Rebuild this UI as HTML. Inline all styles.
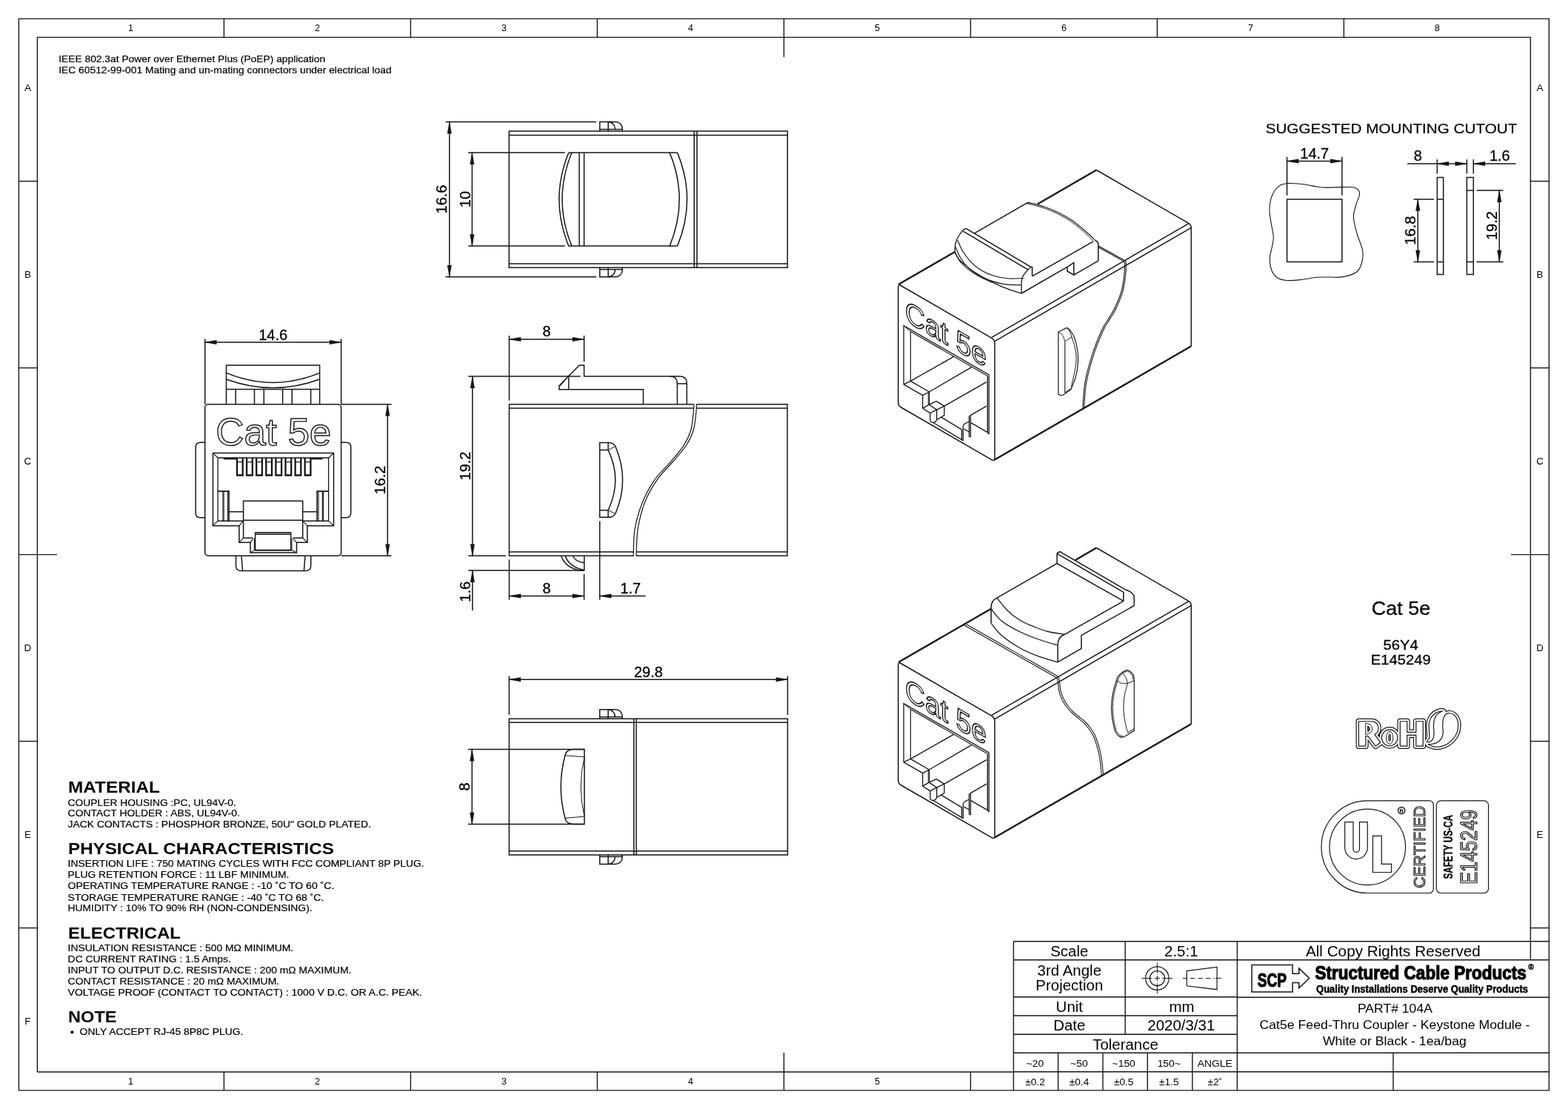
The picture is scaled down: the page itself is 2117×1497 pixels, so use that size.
<!DOCTYPE html>
<html><head><meta charset="utf-8"><title>Cat5e Feed-Thru Coupler Drawing</title>
<style>
html,body{margin:0;padding:0;background:#fff;}
body{width:2117px;height:1497px;overflow:hidden;font-family:"Liberation Sans",sans-serif;}
svg{display:block;will-change:transform;font-family:"Liberation Sans",sans-serif;}
</style></head><body>
<svg width="2117" height="1497" viewBox="0 0 2117 1497" stroke="#161616" fill="none" stroke-linecap="butt" stroke-linejoin="miter">
<path d="M25.4 25.4H2091.4V1471.9H25.4Z" stroke-width="1.4" fill="none"/>
<path d="M2066.4 1295.8V50.4H50.4V1447" stroke-width="1.4" fill="none"/>
<path d="M50.4 1447L1368.4 1447" stroke-width="1.4"/>
<path d="M302.4 25.4L302.4 50.4" stroke-width="1.4"/>
<path d="M554.4 25.4L554.4 50.4" stroke-width="1.4"/>
<path d="M806.4 25.4L806.4 50.4" stroke-width="1.4"/>
<path d="M1058.4 25.4L1058.4 77" stroke-width="1.4"/>
<path d="M1310.4 25.4L1310.4 50.4" stroke-width="1.4"/>
<path d="M1562.4 25.4L1562.4 50.4" stroke-width="1.4"/>
<path d="M1814.4 25.4L1814.4 50.4" stroke-width="1.4"/>
<path d="M302.4 1447L302.4 1471.9" stroke-width="1.4"/>
<path d="M554.4 1447L554.4 1471.9" stroke-width="1.4"/>
<path d="M806.4 1447L806.4 1471.9" stroke-width="1.4"/>
<path d="M1058.4 1421L1058.4 1471.9" stroke-width="1.4"/>
<path d="M1310.4 1447L1310.4 1471.9" stroke-width="1.4"/>
<path d="M25.4 244.6L50.4 244.6" stroke-width="1.4"/>
<path d="M2066.4 244.6L2091.4 244.6" stroke-width="1.4"/>
<path d="M25.4 496.6L50.4 496.6" stroke-width="1.4"/>
<path d="M2066.4 496.6L2091.4 496.6" stroke-width="1.4"/>
<path d="M25.4 748.6L77 748.6" stroke-width="1.4"/>
<path d="M2040 748.6L2091.4 748.6" stroke-width="1.4"/>
<path d="M25.4 1000.6L50.4 1000.6" stroke-width="1.4"/>
<path d="M2066.4 1000.6L2091.4 1000.6" stroke-width="1.4"/>
<path d="M25.4 1252.6L50.4 1252.6" stroke-width="1.4"/>
<path d="M2066.4 1252.6L2091.4 1252.6" stroke-width="1.4"/>
<text x="176.4" y="42" font-size="12.5" text-anchor="middle" fill="#000" stroke="none">1</text>
<text x="176.4" y="1464.3" font-size="12.5" text-anchor="middle" fill="#000" stroke="none">1</text>
<text x="428.4" y="42" font-size="12.5" text-anchor="middle" fill="#000" stroke="none">2</text>
<text x="428.4" y="1464.3" font-size="12.5" text-anchor="middle" fill="#000" stroke="none">2</text>
<text x="680.4" y="42" font-size="12.5" text-anchor="middle" fill="#000" stroke="none">3</text>
<text x="680.4" y="1464.3" font-size="12.5" text-anchor="middle" fill="#000" stroke="none">3</text>
<text x="932.4" y="42" font-size="12.5" text-anchor="middle" fill="#000" stroke="none">4</text>
<text x="932.4" y="1464.3" font-size="12.5" text-anchor="middle" fill="#000" stroke="none">4</text>
<text x="1184.4" y="42" font-size="12.5" text-anchor="middle" fill="#000" stroke="none">5</text>
<text x="1184.4" y="1464.3" font-size="12.5" text-anchor="middle" fill="#000" stroke="none">5</text>
<text x="1436.4" y="42" font-size="12.5" text-anchor="middle" fill="#000" stroke="none">6</text>
<text x="1688.4" y="42" font-size="12.5" text-anchor="middle" fill="#000" stroke="none">7</text>
<text x="1940.4" y="42" font-size="12.5" text-anchor="middle" fill="#000" stroke="none">8</text>
<text x="0" y="0" font-size="12" text-anchor="middle" fill="#000" stroke="none" transform="translate(37.4 123) scale(1.12 1)">A</text>
<text x="0" y="0" font-size="12" text-anchor="middle" fill="#000" stroke="none" transform="translate(2079 123) scale(1.12 1)">A</text>
<text x="0" y="0" font-size="12" text-anchor="middle" fill="#000" stroke="none" transform="translate(37.4 375) scale(1.12 1)">B</text>
<text x="0" y="0" font-size="12" text-anchor="middle" fill="#000" stroke="none" transform="translate(2079 375) scale(1.12 1)">B</text>
<text x="0" y="0" font-size="12" text-anchor="middle" fill="#000" stroke="none" transform="translate(37.4 627) scale(1.12 1)">C</text>
<text x="0" y="0" font-size="12" text-anchor="middle" fill="#000" stroke="none" transform="translate(2079 627) scale(1.12 1)">C</text>
<text x="0" y="0" font-size="12" text-anchor="middle" fill="#000" stroke="none" transform="translate(37.4 879) scale(1.12 1)">D</text>
<text x="0" y="0" font-size="12" text-anchor="middle" fill="#000" stroke="none" transform="translate(2079 879) scale(1.12 1)">D</text>
<text x="0" y="0" font-size="12" text-anchor="middle" fill="#000" stroke="none" transform="translate(37.4 1131) scale(1.12 1)">E</text>
<text x="0" y="0" font-size="12" text-anchor="middle" fill="#000" stroke="none" transform="translate(2079 1131) scale(1.12 1)">E</text>
<text x="0" y="0" font-size="12" text-anchor="middle" fill="#000" stroke="none" transform="translate(37.4 1383) scale(1.12 1)">F</text>
<path d="M1368.4 1270.8L1368.4 1471.9" stroke-width="1.4"/>
<path d="M1368.4 1270.8L2091.4 1270.8" stroke-width="1.4"/>
<path d="M1368.4 1295.8L2091.4 1295.8" stroke-width="1.4"/>
<path d="M1368.4 1345.8L1670.4 1345.8" stroke-width="1.4"/>
<path d="M1670.4 1346.3L2091.4 1346.3" stroke-width="1.4"/>
<path d="M1368.4 1371L1670.4 1371" stroke-width="1.4"/>
<path d="M1368.4 1396.3L1670.4 1396.3" stroke-width="1.4"/>
<path d="M1368.4 1421.3L2091.4 1421.3" stroke-width="1.4"/>
<path d="M1368.4 1446.8L2091.4 1446.8" stroke-width="1.4"/>
<path d="M1519.2 1270.8L1519.2 1396.3" stroke-width="1.4"/>
<path d="M1670.4 1270.8L1670.4 1471.9" stroke-width="1.4"/>
<path d="M1428.6 1421.3L1428.6 1471.9" stroke-width="1.4"/>
<path d="M1489 1421.3L1489 1471.9" stroke-width="1.4"/>
<path d="M1549.3 1421.3L1549.3 1471.9" stroke-width="1.4"/>
<path d="M1609.9 1421.3L1609.9 1471.9" stroke-width="1.4"/>
<path d="M1881 1421.3L1881 1471.9" stroke-width="1.4"/>
<text x="0" y="0" font-size="19.3" text-anchor="middle" fill="#000" stroke="none" transform="translate(1443.8 1291.1) scale(1.06 1)">Scale</text>
<text x="0" y="0" font-size="19.3" text-anchor="middle" fill="#000" stroke="none" transform="translate(1594.8 1291.1) scale(1.06 1)">2.5:1</text>
<text x="0" y="0" font-size="19.3" text-anchor="middle" fill="#000" stroke="none" transform="translate(1443.8 1316.8) scale(1.06 1)">3rd Angle</text>
<text x="0" y="0" font-size="19.3" text-anchor="middle" fill="#000" stroke="none" transform="translate(1443.8 1336.9) scale(1.06 1)">Projection</text>
<text x="0" y="0" font-size="19.3" text-anchor="middle" fill="#000" stroke="none" transform="translate(1443.8 1366.3) scale(1.06 1)">Unit</text>
<text x="0" y="0" font-size="19.3" text-anchor="middle" fill="#000" stroke="none" transform="translate(1595.5 1366.3) scale(1.06 1)">mm</text>
<text x="0" y="0" font-size="19.3" text-anchor="middle" fill="#000" stroke="none" transform="translate(1443.8 1391.4) scale(1.06 1)">Date</text>
<text x="0" y="0" font-size="19.3" text-anchor="middle" fill="#000" stroke="none" transform="translate(1594.8 1391.4) scale(1.06 1)">2020/3/31</text>
<text x="0" y="0" font-size="19.3" text-anchor="middle" fill="#000" stroke="none" transform="translate(1519.5 1417) scale(1.06 1)">Tolerance</text>
<text x="0" y="0" font-size="13" text-anchor="middle" fill="#000" stroke="none" transform="translate(1397.5 1439.7) scale(1.07 1)">~20</text>
<text x="0" y="0" font-size="13" text-anchor="middle" fill="#000" stroke="none" transform="translate(1457 1439.7) scale(1.07 1)">~50</text>
<text x="0" y="0" font-size="13" text-anchor="middle" fill="#000" stroke="none" transform="translate(1517.2 1439.7) scale(1.07 1)">~150</text>
<text x="0" y="0" font-size="13" text-anchor="middle" fill="#000" stroke="none" transform="translate(1578.3 1439.7) scale(1.07 1)">150~</text>
<text x="0" y="0" font-size="13" text-anchor="middle" fill="#000" stroke="none" transform="translate(1640.3 1439.7) scale(1.07 1)">ANGLE</text>
<text x="0" y="0" font-size="13" text-anchor="middle" fill="#000" stroke="none" transform="translate(1397.5 1464.8) scale(1.05 1)">±0.2</text>
<text x="0" y="0" font-size="13" text-anchor="middle" fill="#000" stroke="none" transform="translate(1457 1464.8) scale(1.05 1)">±0.4</text>
<text x="0" y="0" font-size="13" text-anchor="middle" fill="#000" stroke="none" transform="translate(1517.2 1464.8) scale(1.05 1)">±0.5</text>
<text x="0" y="0" font-size="13" text-anchor="middle" fill="#000" stroke="none" transform="translate(1578.3 1464.8) scale(1.05 1)">±1.5</text>
<text x="0" y="0" font-size="13" text-anchor="middle" fill="#000" stroke="none" transform="translate(1640.3 1464.8) scale(1.05 1)">±2˚</text>
<circle cx="1562.4" cy="1320.6" r="15.7" stroke-width="1.2" fill="none"/>
<circle cx="1562.4" cy="1320.6" r="10.1" stroke-width="1.2" fill="none"/>
<path d="M1541.4 1320.6L1555.5 1320.6" stroke-width="1"/>
<path d="M1558.9 1320.6L1565.9 1320.6" stroke-width="1"/>
<path d="M1569.3 1320.6L1583.3 1320.6" stroke-width="1"/>
<path d="M1562.4 1299.8L1562.4 1313.7" stroke-width="1"/>
<path d="M1562.4 1317.1L1562.4 1324.1" stroke-width="1"/>
<path d="M1562.4 1327.5L1562.4 1341.3" stroke-width="1"/>
<path d="M1602.2 1310.7L1643.1 1305.4L1643.1 1335.7L1602.2 1330.8Z" stroke-width="1.2" fill="none"/>
<path d="M1597 1320.6L1603.5 1320.6" stroke-width="1"/>
<path d="M1607 1320.6H1640" stroke-width="1" stroke-dasharray="6.5 4"/>
<path d="M1641.5 1320.6L1649 1320.6" stroke-width="1"/>
<text x="1880.9" y="1290.7" font-size="19.5" text-anchor="middle" fill="#000" stroke="none" textLength="236" lengthAdjust="spacingAndGlyphs">All Copy Rights Reserved</text>
<text x="1883.4" y="1367" font-size="16.5" text-anchor="middle" fill="#000" stroke="none" textLength="101" lengthAdjust="spacingAndGlyphs">PART# 104A</text>
<text x="1882.9" y="1389" font-size="16.5" text-anchor="middle" fill="#000" stroke="none" textLength="365" lengthAdjust="spacingAndGlyphs">Cat5e Feed-Thru Coupler - Keystone Module -</text>
<text x="1882.9" y="1410.5" font-size="16.5" text-anchor="middle" fill="#000" stroke="none" textLength="194" lengthAdjust="spacingAndGlyphs">White or Black - 1ea/bag</text>
<path d="M1745.1 1314.3V1302.6H1690.1V1339H1745.1V1326.6H1753.8V1333.8L1767.7 1320.5L1753.8 1307.1V1314.3Z" stroke-width="1.5" fill="none"/>
<text x="1697.8" y="1331.6" font-size="26.3" font-weight="bold" text-anchor="start" fill="#000" stroke="#000" stroke-width="1.2" stroke-linejoin="round" textLength="39.3" lengthAdjust="spacingAndGlyphs">SCP</text>
<text x="1775.4" y="1322.2" font-size="25" font-weight="bold" text-anchor="start" fill="#000" stroke="#000" stroke-width="1.2" stroke-linejoin="round" textLength="285.5" lengthAdjust="spacingAndGlyphs">Structured Cable Products</text>
<text x="1777" y="1339.8" font-size="14.6" font-weight="bold" text-anchor="start" fill="#000" stroke="#000" stroke-width="0.5" stroke-linejoin="round" textLength="286" lengthAdjust="spacingAndGlyphs">Quality Installations Deserve Quality Products</text>
<text x="2067.2" y="1309.2" font-size="10.5" text-anchor="middle" fill="#000" stroke="none" font-weight="bold" style="stroke:#000;stroke-width:0.4px">®</text>
<text x="79.2" y="83.5" font-size="13" text-anchor="start" fill="#000" stroke="none" textLength="360" lengthAdjust="spacingAndGlyphs" style="stroke:#000;stroke-width:0.2px">IEEE 802.3at Power over Ethernet Plus (PoEP) application</text>
<text x="79.2" y="98.9" font-size="13" text-anchor="start" fill="#000" stroke="none" textLength="449.5" lengthAdjust="spacingAndGlyphs" style="stroke:#000;stroke-width:0.2px">IEC 60512-99-001 Mating and un-mating connectors under electrical load</text>
<text x="92.1" y="1070" font-size="21.8" text-anchor="start" fill="#000" stroke="none" textLength="123.9" lengthAdjust="spacingAndGlyphs" font-weight="bold">MATERIAL</text>
<text x="91.6" y="1087.5" font-size="13" text-anchor="start" fill="#000" stroke="none" textLength="227.2" lengthAdjust="spacingAndGlyphs" style="stroke:#000;stroke-width:0.2px">COUPLER HOUSING :PC, UL94V-0.</text>
<text x="91.6" y="1102.4" font-size="13" text-anchor="start" fill="#000" stroke="none" textLength="232.2" lengthAdjust="spacingAndGlyphs" style="stroke:#000;stroke-width:0.2px">CONTACT HOLDER : ABS, UL94V-0.</text>
<text x="91.6" y="1117.4" font-size="13" text-anchor="start" fill="#000" stroke="none" textLength="409.2" lengthAdjust="spacingAndGlyphs" style="stroke:#000;stroke-width:0.2px">JACK CONTACTS : PHOSPHOR BRONZE, 50U" GOLD PLATED.</text>
<text x="92.1" y="1153" font-size="21.8" text-anchor="start" fill="#000" stroke="none" textLength="358.7" lengthAdjust="spacingAndGlyphs" font-weight="bold">PHYSICAL CHARACTERISTICS</text>
<text x="91.6" y="1170.2" font-size="13" text-anchor="start" fill="#000" stroke="none" textLength="481" lengthAdjust="spacingAndGlyphs" style="stroke:#000;stroke-width:0.2px">INSERTION LIFE : 750 MATING CYCLES WITH FCC COMPLIANT 8P PLUG.</text>
<text x="91.6" y="1185.2" font-size="13" text-anchor="start" fill="#000" stroke="none" textLength="298.7" lengthAdjust="spacingAndGlyphs" style="stroke:#000;stroke-width:0.2px">PLUG RETENTION FORCE : 11 LBF MINIMUM.</text>
<text x="91.6" y="1200.4" font-size="13" text-anchor="start" fill="#000" stroke="none" textLength="359.7" lengthAdjust="spacingAndGlyphs" style="stroke:#000;stroke-width:0.2px">OPERATING TEMPERATURE RANGE : -10 ˚C TO 60 ˚C.</text>
<text x="91.6" y="1215.7" font-size="13" text-anchor="start" fill="#000" stroke="none" textLength="345.7" lengthAdjust="spacingAndGlyphs" style="stroke:#000;stroke-width:0.2px">STORAGE TEMPERATURE RANGE : -40 ˚C TO 68 ˚C.</text>
<text x="91.6" y="1230.4" font-size="13" text-anchor="start" fill="#000" stroke="none" textLength="330" lengthAdjust="spacingAndGlyphs" style="stroke:#000;stroke-width:0.2px">HUMIDITY : 10% TO 90% RH (NON-CONDENSING).</text>
<text x="92.1" y="1266.7" font-size="21.8" text-anchor="start" fill="#000" stroke="none" textLength="151.8" lengthAdjust="spacingAndGlyphs" font-weight="bold">ELECTRICAL</text>
<text x="91.6" y="1283.7" font-size="13" text-anchor="start" fill="#000" stroke="none" textLength="304.6" lengthAdjust="spacingAndGlyphs" style="stroke:#000;stroke-width:0.2px">INSULATION RESISTANCE : 500 MΩ MINIMUM.</text>
<text x="91.6" y="1298.7" font-size="13" text-anchor="start" fill="#000" stroke="none" textLength="220.3" lengthAdjust="spacingAndGlyphs" style="stroke:#000;stroke-width:0.2px">DC CURRENT RATING : 1.5 Amps.</text>
<text x="91.6" y="1313.6" font-size="13" text-anchor="start" fill="#000" stroke="none" textLength="382.8" lengthAdjust="spacingAndGlyphs" style="stroke:#000;stroke-width:0.2px">INPUT TO OUTPUT D.C. RESISTANCE : 200 mΩ MAXIMUM.</text>
<text x="91.6" y="1328.6" font-size="13" text-anchor="start" fill="#000" stroke="none" textLength="285.5" lengthAdjust="spacingAndGlyphs" style="stroke:#000;stroke-width:0.2px">CONTACT RESISTANCE : 20 mΩ MAXIMUM.</text>
<text x="91.6" y="1343.8" font-size="13" text-anchor="start" fill="#000" stroke="none" textLength="478.4" lengthAdjust="spacingAndGlyphs" style="stroke:#000;stroke-width:0.2px">VOLTAGE PROOF (CONTACT TO CONTACT) : 1000 V D.C. OR A.C. PEAK.</text>
<text x="92.1" y="1380.1" font-size="21.8" text-anchor="start" fill="#000" stroke="none" textLength="65.5" lengthAdjust="spacingAndGlyphs" font-weight="bold">NOTE</text>
<circle cx="97.4" cy="1393.3" r="2.1" fill="#000" stroke="none"/>
<text x="107.6" y="1397.4" font-size="13" text-anchor="start" fill="#000" stroke="none" textLength="220.8" lengthAdjust="spacingAndGlyphs" style="stroke:#000;stroke-width:0.2px">ONLY ACCEPT RJ-45 8P8C PLUG.</text>
<text x="1891.4" y="829.6" font-size="26.5" text-anchor="middle" fill="#000" stroke="none" textLength="79.5" lengthAdjust="spacingAndGlyphs" style="stroke:#000;stroke-width:0.3px">Cat 5e</text>
<text x="1891.2" y="877.2" font-size="19.2" text-anchor="middle" fill="#000" stroke="none" textLength="47.4" lengthAdjust="spacingAndGlyphs" style="stroke:#000;stroke-width:0.3px">56Y4</text>
<text x="1891.2" y="896.5" font-size="19.2" text-anchor="middle" fill="#000" stroke="none" textLength="81" lengthAdjust="spacingAndGlyphs" style="stroke:#000;stroke-width:0.3px">E145249</text>
<text x="1878.5" y="180.2" font-size="18.5" text-anchor="middle" fill="#000" stroke="none" textLength="339.7" lengthAdjust="spacingAndGlyphs" style="stroke:#000;stroke-width:0.2px">SUGGESTED MOUNTING CUTOUT</text>
<path d="M687.3 177H1063.2V361.3H687.3Z" stroke-width="1.5" fill="none"/>
<path d="M687.3 182.5L1063.2 182.5" stroke-width="1.5"/>
<path d="M687.3 356L1063.2 356" stroke-width="1.5"/>
<path d="M937.25 177L937.25 361.3" stroke-width="1.5"/>
<path d="M941 177L941 361.3" stroke-width="1.5"/>
<path d="M767.8 206.1L914.6 206.1" stroke-width="1.5"/>
<path d="M767.8 332.1L914.6 332.1" stroke-width="1.5"/>
<path d="M767.8 206.1Q742 269.1 767.8 332.1" stroke-width="1.5" fill="none"/>
<path d="M771.9 206.1Q746.2 269.1 771.9 332.1" stroke-width="1.5" fill="none"/>
<path d="M782.1 206.1L782.1 332.1" stroke-width="1.5"/>
<path d="M788.6 206.1L788.6 332.1" stroke-width="1.5"/>
<path d="M914.6 206.1Q940.6 269.1 914.6 332.1" stroke-width="1.5" fill="none"/>
<path d="M904.2 206.1Q930.2 269.1 904.2 332.1" stroke-width="1.5" fill="none"/>
<path d="M809.8 177V164.6H831.3A9 9 0 0 1 840.3 173.6V177" stroke-width="1.5" fill="none"/>
<path d="M821.2 164.6L821.2 177" stroke-width="1.5"/>
<path d="M821.2 164.6A9.4 10 0 0 1 830.6 174.6" stroke-width="1.5" fill="none"/>
<path d="M809.8 174.6L840.3 174.6" stroke-width="1.5"/>
<path d="M809.8 361.3V373.7H831.3A9 9 0 0 0 840.3 364.7V361.3" stroke-width="1.5" fill="none"/>
<path d="M821.2 373.7L821.2 361.3" stroke-width="1.5"/>
<path d="M821.2 373.7A9.4 10 0 0 0 830.6 363.7" stroke-width="1.5" fill="none"/>
<path d="M809.8 363.7L840.3 363.7" stroke-width="1.5"/>
<path d="M601.6 164.6L805 164.6" stroke-width="1.5"/>
<path d="M601.6 373.7L805 373.7" stroke-width="1.5"/>
<path d="M606.8 164.6L606.8 373.7" stroke-width="1.5"/>
<path d="M606.8 162.9L603.8 180.4L609.8 180.4Z" fill="#161616" stroke="none"/>
<path d="M606.8 375.4L603.8 357.9L609.8 357.9Z" fill="#161616" stroke="none"/>
<text x="603.4" y="269" font-size="20" text-anchor="middle" fill="#000" stroke="none" transform="rotate(-90 603.4 269)" style="stroke:#000;stroke-width:0.3px">16.6</text>
<path d="M632.2 206.1L762.7 206.1" stroke-width="1.5"/>
<path d="M632.2 332.1L762.7 332.1" stroke-width="1.5"/>
<path d="M637.4 206.1L637.4 332.1" stroke-width="1.5"/>
<path d="M637.4 204.4L634.4 221.9L640.4 221.9Z" fill="#161616" stroke="none"/>
<path d="M637.4 333.8L634.4 316.3L640.4 316.3Z" fill="#161616" stroke="none"/>
<text x="634.7" y="269" font-size="20" text-anchor="middle" fill="#000" stroke="none" transform="rotate(-90 634.7 269)" style="stroke:#000;stroke-width:0.3px">10</text>
<path d="M305.5 545.7V493H431.6V545.7" stroke-width="1.5" fill="none"/>
<path d="M305.5 503.4Q368.5 529.4 431.6 503.4" stroke-width="1.5" fill="none"/>
<path d="M305.5 512Q368.5 535 431.6 512" stroke-width="1.5" fill="none"/>
<path d="M305.5 525.4L431.6 525.4" stroke-width="1.5"/>
<path d="M318.2 525.4L318.2 545.7" stroke-width="1.5"/>
<path d="M343.5 525.4L343.5 545.7" stroke-width="1.5"/>
<path d="M356.3 525.4L356.3 545.7" stroke-width="1.5"/>
<path d="M381.6 525.4L381.6 545.7" stroke-width="1.5"/>
<path d="M394.3 525.4L394.3 545.7" stroke-width="1.5"/>
<path d="M419.6 525.4L419.6 545.7" stroke-width="1.5"/>
<path d="M276.7 597.3H270.7Q264.2 597.3 264.2 603.8V692.2Q264.2 698.7 270.7 698.7H276.7" stroke-width="1.5" fill="none"/>
<path d="M460.6 597.3H467.2Q473.7 597.3 473.7 603.8V692.2Q473.7 698.7 467.2 698.7H460.6" stroke-width="1.5" fill="none"/>
<path d="M318.5 750.3V763.5Q318.5 770.6 325.6 770.6H412.6Q419.7 770.6 419.7 763.5V750.3" stroke-width="1.5" fill="none"/>
<path d="M326 750.3L327.5 770.6" stroke-width="1.5"/>
<path d="M412 750.3L410.4 770.6" stroke-width="1.5"/>
<rect x="276.7" y="545.7" width="183.9" height="204.6" rx="4.2" stroke-width="1.5" fill="none"/>
<text x="291.3" y="600.8" font-size="52" text-anchor="start" fill="#fff" stroke="#161616" stroke-width="1.4" textLength="156" lengthAdjust="spacingAndGlyphs">Cat 5e</text>
<path d="M287.5 709.7V611.5H450.5V709.7H414.9V732.3H400.5V746.1H338V732.3H322.9V709.7Z" stroke-width="1.5" fill="none"/>
<path d="M294.1 703.2V618H443.6V703.2" stroke-width="1.3" fill="none"/>
<path d="M287.5 611.5L294.1 618" stroke-width="1.1"/>
<path d="M450.5 611.5L443.6 618" stroke-width="1.1"/>
<path d="M287.5 709.7L294.1 703.2" stroke-width="1.1"/>
<path d="M450.5 709.7L443.6 703.2" stroke-width="1.1"/>
<path d="M294.1 703.2L328.6 703.2" stroke-width="1.5"/>
<path d="M408.7 703.2L443.6 703.2" stroke-width="1.5"/>
<path d="M322.9 709.7L328.6 703.2" stroke-width="1.1"/>
<path d="M414.9 709.7L408.7 703.2" stroke-width="1.1"/>
<path d="M328.6 726.2V676.3H408.7V726.2" stroke-width="1.5" fill="none"/>
<path d="M328.6 702.2L408.7 702.2" stroke-width="1.5"/>
<path d="M328.6 726.2L341.6 726.2" stroke-width="1.5"/>
<path d="M395.7 726.2L408.7 726.2" stroke-width="1.5"/>
<path d="M322.9 732.3L328.6 726.2" stroke-width="1.1"/>
<path d="M414.9 732.3L408.7 726.2" stroke-width="1.1"/>
<path d="M338 732.3L341.6 727.4" stroke-width="1.1"/>
<path d="M400.5 732.3L395.7 727.4" stroke-width="1.1"/>
<path d="M344.6 743.1V719H392.7V743.1Z" stroke-width="1.4" fill="none"/>
<path d="M344.6 719H392.7V721.5H344.6Z" stroke-width="1" fill="#888"/>
<path d="M343.4 726.2L343.4 743.1" stroke-width="1.1"/>
<path d="M393.9 726.2L393.9 743.1" stroke-width="1.1"/>
<path d="M338 746.1L343.4 742.6" stroke-width="1.1"/>
<path d="M400.5 746.1L393.9 742.6" stroke-width="1.1"/>
<path d="M343.4 742.4L393.9 742.4" stroke-width="1.1"/>
<path d="M294.1 663.1H309.1V703.2" stroke-width="1.6" fill="none"/>
<path d="M300.9 663.1L300.9 703.2" stroke-width="1.1"/>
<path d="M302.1 663.1L302.1 703.2" stroke-width="1.1"/>
<path d="M307.4 663.1L307.4 703.2" stroke-width="1.1"/>
<path d="M443.6 663.1H428.1V703.2" stroke-width="1.6" fill="none"/>
<path d="M436.5 663.1L436.5 703.2" stroke-width="1.1"/>
<path d="M435.3 663.1L435.3 703.2" stroke-width="1.1"/>
<path d="M430 663.1L430 703.2" stroke-width="1.1"/>
<path d="M309.1 690.8L328.6 690.8" stroke-width="1.5"/>
<path d="M408.7 690.8L428.1 690.8" stroke-width="1.5"/>
<path d="M301.9 619.2L320 619.2" stroke-width="2.2"/>
<path d="M418.4 619.2L435.4 619.2" stroke-width="2.2"/>
<path d="M320 618.3V641.5H327.7V618.3" stroke-width="2.3" fill="none"/>
<path d="M320 623.6L327.7 623.6" stroke-width="1.2"/>
<path d="M333.1 618.3V641.5H340.8V618.3" stroke-width="2.3" fill="none"/>
<path d="M333.1 623.6L340.8 623.6" stroke-width="1.2"/>
<path d="M346.2 618.3V641.5H353.9V618.3" stroke-width="2.3" fill="none"/>
<path d="M346.2 623.6L353.9 623.6" stroke-width="1.2"/>
<path d="M359.3 618.3V641.5H367V618.3" stroke-width="2.3" fill="none"/>
<path d="M359.3 623.6L367 623.6" stroke-width="1.2"/>
<path d="M372.4 618.3V641.5H380.1V618.3" stroke-width="2.3" fill="none"/>
<path d="M372.4 623.6L380.1 623.6" stroke-width="1.2"/>
<path d="M385.5 618.3V641.5H393.2V618.3" stroke-width="2.3" fill="none"/>
<path d="M385.5 623.6L393.2 623.6" stroke-width="1.2"/>
<path d="M398.6 618.3V641.5H406.3V618.3" stroke-width="2.3" fill="none"/>
<path d="M398.6 623.6L406.3 623.6" stroke-width="1.2"/>
<path d="M411.7 618.3V641.5H419.4V618.3" stroke-width="2.3" fill="none"/>
<path d="M411.7 623.6L419.4 623.6" stroke-width="1.2"/>
<path d="M276.7 457.5L276.7 545.7" stroke-width="1.5"/>
<path d="M460.6 457.5L460.6 545.7" stroke-width="1.5"/>
<path d="M276.7 462.1L460.6 462.1" stroke-width="1.5"/>
<path d="M275 462.1L292.5 459.1L292.5 465.1Z" fill="#161616" stroke="none"/>
<path d="M462.3 462.1L444.8 459.1L444.8 465.1Z" fill="#161616" stroke="none"/>
<text x="368.65" y="458.5" font-size="20" text-anchor="middle" fill="#000" stroke="none" style="stroke:#000;stroke-width:0.3px">14.6</text>
<path d="M460.6 545.7L528.5 545.7" stroke-width="1.5"/>
<path d="M460.6 750.3L528.5 750.3" stroke-width="1.5"/>
<path d="M523.3 545.7L523.3 750.3" stroke-width="1.5"/>
<path d="M523.3 544L520.3 561.5L526.3 561.5Z" fill="#161616" stroke="none"/>
<path d="M523.3 752L520.3 734.5L526.3 734.5Z" fill="#161616" stroke="none"/>
<text x="520" y="648" font-size="20" text-anchor="middle" fill="#000" stroke="none" transform="rotate(-90 520 648)" style="stroke:#000;stroke-width:0.3px">16.2</text>
<path d="M936.8 545.7H687.5V750.2H855.5" stroke-width="1.5" fill="none"/>
<path d="M940.4 545.7H1063V750.2H858.9" stroke-width="1.5" fill="none"/>
<path d="M687.5 551L936.5 551" stroke-width="1.5"/>
<path d="M940.6 551L1063 551" stroke-width="1.5"/>
<path d="M687.5 744.9L855.4 744.9" stroke-width="1.5"/>
<path d="M859.2 744.9L1063 744.9" stroke-width="1.5"/>
<path d="M940.4 545.7C940.37 546.92 940.87 547.28 940.2 553C939.53 558.72 938.67 572 936.4 580C934.13 588 931.28 593.75 926.6 601C921.92 608.25 914.85 615.78 908.3 623.5C901.75 631.22 893.6 638.18 887.3 647.3C881 656.42 874.83 667.2 870.5 678.2C866.17 689.2 863.18 702.2 861.3 713.3C859.42 724.4 859.6 738.65 859.2 744.8C858.8 750.95 858.95 749.3 858.9 750.2" stroke-width="1.2" fill="none"/>
<path d="M936.8 545.7C936.77 546.92 937.25 547.28 936.6 553C935.95 558.72 935.27 571.77 932.9 580C930.53 588.23 927.2 594.92 922.4 602.4C917.6 609.88 910.65 617.18 904.1 624.9C897.55 632.62 889.4 639.35 883.1 648.7C876.8 658.05 870.63 670 866.3 681C861.97 692 858.93 704.07 857.1 714.7C855.27 725.33 855.6 738.88 855.3 744.8C855 750.72 855.3 749.3 855.3 750.2" stroke-width="1.2" fill="none"/>
<path d="M868.5 545.7V525.8H754.9V520.7L782.2 492.9H788.6V508.1H917.6Q927.3 508.1 927.3 517.7V545.7" stroke-width="1.5" fill="none"/>
<path d="M904.6 508.1Q914.4 508.1 914.4 517.7V545.7" stroke-width="1.5" fill="none"/>
<path d="M914.4 517.9L927.3 517.9" stroke-width="1.5"/>
<path d="M767.8 508.8L767.8 525.8" stroke-width="1.5"/>
<path d="M768.6 506.2L756.2 521.4" stroke-width="1"/>
<path d="M809.7 597.5H822.8Q829 598 831.5 604Q849.7 648 831.5 692Q829 697.8 822.8 698.3H809.7Z" stroke-width="1.5" fill="none"/>
<path d="M809.7 607.4H821.1Q840.5 648 821.1 688.7H809.7" stroke-width="1.5" fill="none"/>
<path d="M821.1 597.5L821.1 607.4" stroke-width="1.5"/>
<path d="M821.1 688.7L821.1 698.3" stroke-width="1.5"/>
<path d="M821.1 607.4L830.2 602.8" stroke-width="1"/>
<path d="M821.1 688.7L830.2 693.2" stroke-width="1"/>
<path d="M788.8 750.2V770.1H782.5" stroke-width="1.5" fill="none"/>
<path d="M757.5 750.2Q763 766 782.5 770" stroke-width="1.5" fill="none"/>
<path d="M763.1 750.2Q768 765 788.3 769.6" stroke-width="1.5" fill="none"/>
<path d="M773.4 750.2Q777 758.5 788.8 759.8" stroke-width="1.5" fill="none"/>
<path d="M687.5 453.1L687.5 540.6" stroke-width="1.5"/>
<path d="M788.6 453.1L788.6 488.4" stroke-width="1.5"/>
<path d="M687.5 457.9L788.6 457.9" stroke-width="1.5"/>
<path d="M685.8 457.9L703.3 454.9L703.3 460.9Z" fill="#161616" stroke="none"/>
<path d="M790.3 457.9L772.8 454.9L772.8 460.9Z" fill="#161616" stroke="none"/>
<text x="738.05" y="454" font-size="20" text-anchor="middle" fill="#000" stroke="none" style="stroke:#000;stroke-width:0.3px">8</text>
<path d="M632.3 508.1L783.6 508.1" stroke-width="1.5"/>
<path d="M632.3 750.2L682.8 750.2" stroke-width="1.5"/>
<path d="M637.9 508.1L637.9 750.2" stroke-width="1.5"/>
<path d="M637.9 506.4L634.9 523.9L640.9 523.9Z" fill="#161616" stroke="none"/>
<path d="M637.9 751.9L634.9 734.4L640.9 734.4Z" fill="#161616" stroke="none"/>
<text x="634.8" y="629" font-size="20" text-anchor="middle" fill="#000" stroke="none" transform="rotate(-90 634.8 629)" style="stroke:#000;stroke-width:0.3px">19.2</text>
<path d="M632.3 770.1L788.8 770.1" stroke-width="1.5"/>
<path d="M637.9 770.1L637.9 824" stroke-width="1.5"/>
<path d="M637.9 768.4L634.9 785.9L640.9 785.9Z" fill="#161616" stroke="none"/>
<text x="634.8" y="798.8" font-size="20" text-anchor="middle" fill="#000" stroke="none" transform="rotate(-90 634.8 798.8)" style="stroke:#000;stroke-width:0.3px">1.6</text>
<path d="M687.5 755.3L687.5 809.5" stroke-width="1.5"/>
<path d="M788.6 774.9L788.6 809.5" stroke-width="1.5"/>
<path d="M687.5 804.4L788.6 804.4" stroke-width="1.5"/>
<path d="M685.8 804.4L703.3 801.4L703.3 807.4Z" fill="#161616" stroke="none"/>
<path d="M790.3 804.4L772.8 801.4L772.8 807.4Z" fill="#161616" stroke="none"/>
<text x="738.05" y="800.6" font-size="20" text-anchor="middle" fill="#000" stroke="none" style="stroke:#000;stroke-width:0.3px">8</text>
<path d="M809.7 703.4L809.7 809.5" stroke-width="1.5"/>
<path d="M809.7 804.4L871.6 804.4" stroke-width="1.5"/>
<path d="M808 804.4L825.5 801.4L825.5 807.4Z" fill="#161616" stroke="none"/>
<text x="851.3" y="800.6" font-size="20" text-anchor="middle" fill="#000" stroke="none" style="stroke:#000;stroke-width:0.3px">1.7</text>
<path d="M687.4 970.2H1063.4V1154H687.4Z" stroke-width="1.5" fill="none"/>
<path d="M687.4 975.3L1063.4 975.3" stroke-width="1.5"/>
<path d="M687.4 1148.8L1063.4 1148.8" stroke-width="1.5"/>
<path d="M855.8 970.2L855.8 1154" stroke-width="1.5"/>
<path d="M859.1 970.2L859.1 1154" stroke-width="1.5"/>
<path d="M809.7 970.2V957.8H831.2A9 9 0 0 1 840.2 966.8V970.2" stroke-width="1.5" fill="none"/>
<path d="M821.1 957.8L821.1 970.2" stroke-width="1.5"/>
<path d="M821.1 957.8A9.4 10 0 0 1 830.5 967.8" stroke-width="1.5" fill="none"/>
<path d="M809.7 967.8L840.2 967.8" stroke-width="1.5"/>
<path d="M809.7 1154V1166.4H831.2A9 9 0 0 0 840.2 1157.4V1154" stroke-width="1.5" fill="none"/>
<path d="M821.1 1166.4L821.1 1154" stroke-width="1.5"/>
<path d="M821.1 1166.4A9.4 10 0 0 0 830.5 1156.4" stroke-width="1.5" fill="none"/>
<path d="M809.7 1156.4L840.2 1156.4" stroke-width="1.5"/>
<path d="M789 1011.6H774.8Q764.5 1011.6 763 1019.5Q751.5 1062.1 763 1104.7Q764.5 1112.6 774.8 1112.6H789Z" stroke-width="1.5" fill="none"/>
<path d="M763 1019.8L789 1021.7" stroke-width="1"/>
<path d="M763 1104.4L789 1102.1" stroke-width="1"/>
<path d="M789 1021.7Q779.5 1062 789 1102.1" stroke-width="1" fill="none"/>
<path d="M687.4 912.6L687.4 965" stroke-width="1.5"/>
<path d="M1063.4 912.6L1063.4 965" stroke-width="1.5"/>
<path d="M687.4 917.3L1063.4 917.3" stroke-width="1.5"/>
<path d="M685.7 917.3L703.2 914.3L703.2 920.3Z" fill="#161616" stroke="none"/>
<path d="M1065.1 917.3L1047.6 914.3L1047.6 920.3Z" fill="#161616" stroke="none"/>
<text x="875.4" y="914" font-size="20" text-anchor="middle" fill="#000" stroke="none" style="stroke:#000;stroke-width:0.3px">29.8</text>
<path d="M631.9 1011.6L789 1011.6" stroke-width="1.5"/>
<path d="M631.9 1112.6L789 1112.6" stroke-width="1.5"/>
<path d="M637.3 1011.6L637.3 1112.6" stroke-width="1.5"/>
<path d="M637.3 1009.9L634.3 1027.4L640.3 1027.4Z" fill="#161616" stroke="none"/>
<path d="M637.3 1114.3L634.3 1096.8L640.3 1096.8Z" fill="#161616" stroke="none"/>
<text x="633.8" y="1062" font-size="20" text-anchor="middle" fill="#000" stroke="none" transform="rotate(-90 633.8 1062)" style="stroke:#000;stroke-width:0.3px">8</text>
<path d="M1737.6 269H1811.9V353.5H1737.6Z" stroke-width="1.5" fill="none"/>
<path d="M1738.6 247.3C1742.17 247.55 1752.13 247.85 1760 248.8C1767.87 249.75 1777.13 252.37 1785.8 253C1794.47 253.63 1804.75 252.53 1812 252.6C1819.25 252.67 1825.37 252 1829.3 253.4C1833.23 254.8 1835.32 257.23 1835.6 261C1835.88 264.77 1832.37 270.67 1831 276C1829.63 281.33 1827.23 286.5 1827.4 293C1827.57 299.5 1829.95 307.43 1832 315C1834.05 322.57 1838.62 331.73 1839.7 338.4C1840.78 345.07 1839.92 350.15 1838.5 355C1837.08 359.85 1835.57 364.35 1831.2 367.5C1826.83 370.65 1818.33 372.82 1812.3 373.9C1806.27 374.98 1800.67 373.93 1795 374C1789.33 374.07 1784.8 373.7 1778.3 374.3C1771.8 374.9 1762.93 376.9 1756 377.6C1749.07 378.3 1742.03 379.02 1736.7 378.5C1731.37 377.98 1727.37 376.92 1724 374.5C1720.63 372.08 1718.1 368.45 1716.5 364C1714.9 359.55 1714.23 352.97 1714.4 347.8C1714.57 342.63 1716.68 337.72 1717.5 333C1718.32 328.28 1719.55 325 1719.3 319.5C1719.05 314 1716.88 305.98 1716 300C1715.12 294.02 1714 288.93 1714 283.6C1714 278.27 1714.73 272.52 1716 268C1717.27 263.48 1719.43 259.53 1721.6 256.5C1723.77 253.47 1726.17 251.33 1729 249.8C1731.83 248.27 1737 247.72 1738.6 247.3" stroke-width="1.1" fill="none"/>
<path d="M1737.6 211.8L1737.6 263.8" stroke-width="1.5"/>
<path d="M1811.9 211.8L1811.9 263.8" stroke-width="1.5"/>
<path d="M1737.6 217.5L1811.9 217.5" stroke-width="1.5"/>
<path d="M1735.9 217.5L1753.4 214.5L1753.4 220.5Z" fill="#161616" stroke="none"/>
<path d="M1813.6 217.5L1796.1 214.5L1796.1 220.5Z" fill="#161616" stroke="none"/>
<text x="1774.75" y="214.2" font-size="20" text-anchor="middle" fill="#000" stroke="none" style="stroke:#000;stroke-width:0.3px">14.7</text>
<path d="M1940.4 239.6H1948.7V370.5H1940.4Z" stroke-width="1.5" fill="none"/>
<path d="M1940.4 269L1948.7 269" stroke-width="1.5"/>
<path d="M1940.4 353.5L1948.7 353.5" stroke-width="1.5"/>
<path d="M1980.4 239.6H1989.3V370.5H1980.4Z" stroke-width="1.5" fill="none"/>
<path d="M1980.4 257.1L1989.3 257.1" stroke-width="1.5"/>
<path d="M1980.4 353.5L1989.3 353.5" stroke-width="1.5"/>
<path d="M1900.1 220.9L1980.4 220.9" stroke-width="1.5"/>
<path d="M1940.4 215.2L1940.4 234.5" stroke-width="1.5"/>
<path d="M1980.4 215.2L1980.4 234.5" stroke-width="1.5"/>
<path d="M1989.3 215.2L1989.3 234.5" stroke-width="1.5"/>
<path d="M1938.7 220.9L1956.2 217.9L1956.2 223.9Z" fill="#161616" stroke="none"/>
<path d="M1982.1 220.9L1964.6 217.9L1964.6 223.9Z" fill="#161616" stroke="none"/>
<path d="M1987.6 220.9L2005.1 217.9L2005.1 223.9Z" fill="#161616" stroke="none"/>
<path d="M1989.3 220.9L2046.6 220.9" stroke-width="1.5"/>
<text x="1914.3" y="216.6" font-size="20" text-anchor="middle" fill="#000" stroke="none" style="stroke:#000;stroke-width:0.3px">8</text>
<text x="2024.8" y="216.6" font-size="20" text-anchor="middle" fill="#000" stroke="none" style="stroke:#000;stroke-width:0.3px">1.6</text>
<path d="M1908.6 269L1936 269" stroke-width="1.5"/>
<path d="M1908.6 353.5L1936 353.5" stroke-width="1.5"/>
<path d="M1914.3 269L1914.3 353.5" stroke-width="1.5"/>
<path d="M1914.3 267.3L1911.3 284.8L1917.3 284.8Z" fill="#161616" stroke="none"/>
<path d="M1914.3 355.2L1911.3 337.7L1917.3 337.7Z" fill="#161616" stroke="none"/>
<text x="1910.8" y="311.2" font-size="20" text-anchor="middle" fill="#000" stroke="none" transform="rotate(-90 1910.8 311.2)" style="stroke:#000;stroke-width:0.3px">16.8</text>
<path d="M1993.7 257.1L2029.6 257.1" stroke-width="1.5"/>
<path d="M1993.7 353.5L2029.6 353.5" stroke-width="1.5"/>
<path d="M2024.3 257.1L2024.3 353.5" stroke-width="1.5"/>
<path d="M2024.3 255.4L2021.3 272.9L2027.3 272.9Z" fill="#161616" stroke="none"/>
<path d="M2024.3 355.2L2021.3 337.7L2027.3 337.7Z" fill="#161616" stroke="none"/>
<text x="2020.8" y="304.6" font-size="20" text-anchor="middle" fill="#000" stroke="none" transform="rotate(-90 2020.8 304.6)" style="stroke:#000;stroke-width:0.3px">19.2</text>
<path d="M1212.7 388.5Q1212.7 383.6 1215.3 385L1338.6 456.1Q1343 458.6 1343 463.5V617.5Q1343 623 1339.3 620.9L1216.7 550Q1212.7 547.6 1212.7 543.5Z" stroke-width="1.5" fill="none"/>
<path d="M1339 455.3L1605 301.7" stroke-width="1.5"/>
<path d="M1343 460.6L1608.3 307.4" stroke-width="1.5"/>
<path d="M1480.3 229.5L1604.4 301.2Q1608.3 303.4 1608.3 307.6V467.3" stroke-width="1.5" fill="none"/>
<path d="M1343 620.6L1608.3 467.3" stroke-width="2.3"/>
<path d="M1213.3 383.7L1289.2 339.88" stroke-width="2.3"/>
<path d="M1400.8 275.45L1480.3 229.55" stroke-width="2.3"/>
<path d="M1220.1 518.9V439.6L1335.2 505.9V586.1" stroke-width="1.3" fill="none"/>
<path d="M1229.4 514.4V447.5L1333.3 507.4" stroke-width="1.2" fill="none"/>
<path d="M1333.3 507.4L1333.3 583.6" stroke-width="1.35"/>
<path d="M1220.1 439.6L1229.4 447.5" stroke-width="1"/>
<path d="M1220.1 518.9L1245.7 533.6" stroke-width="1.3"/>
<path d="M1220.1 518.9L1229.4 514.4" stroke-width="1.35"/>
<path d="M1229.4 514.4L1254.6 529" stroke-width="1.35"/>
<path d="M1245.7 533.6L1254.6 529" stroke-width="1.35"/>
<path d="M1229.4 514.4L1287.6 481.4" stroke-width="1.35"/>
<path d="M1254.6 529L1311.7 495.6" stroke-width="1.35"/>
<path d="M1245.7 533.6L1245.7 551.2" stroke-width="1.3"/>
<path d="M1254.6 529L1254.6 546.2" stroke-width="1.35"/>
<path d="M1253.2 530L1253.2 546.8" stroke-width="0.9"/>
<path d="M1245.7 551.2L1255.8 557.6" stroke-width="1.3"/>
<path d="M1245.7 551.2L1254.6 546.2" stroke-width="1.35"/>
<path d="M1254.6 546.2L1264.1 541.7" stroke-width="1.35"/>
<path d="M1264.1 541.7L1274.9 548.1" stroke-width="1.35"/>
<path d="M1274.9 548.1L1264.7 553.1" stroke-width="1.35"/>
<path d="M1264.7 553.1L1255.8 557.6" stroke-width="1.35"/>
<path d="M1254.6 546.2L1264.7 553.1" stroke-width="1.35"/>
<path d="M1274.9 548.1L1274.9 560.7" stroke-width="1.35"/>
<path d="M1274.9 560.7L1264.7 566.5" stroke-width="1.35"/>
<path d="M1264.7 553.1L1264.7 566.5" stroke-width="1.35"/>
<path d="M1255.8 557.6V567Q1256.2 570.6 1260 570.4Q1263.5 570 1264.7 566.5" stroke-width="1.3" fill="none"/>
<path d="M1274.9 548.1L1332 515.7" stroke-width="1.35"/>
<path d="M1259.7 570.3L1299 593.9" stroke-width="1.3"/>
<path d="M1271.1 563.4L1298.4 579.8" stroke-width="1.35"/>
<path d="M1298.4 579.8L1298.4 593.5" stroke-width="1.35"/>
<path d="M1300.3 575.3L1300.3 595" stroke-width="1.35"/>
<path d="M1299 593.9L1300.3 595" stroke-width="1.35"/>
<path d="M1300.3 575.3Q1300.6 573.2 1302 572.4L1308.5 569" stroke-width="1.2" fill="none"/>
<path d="M1301.5 579.2L1308.5 583" stroke-width="1.35"/>
<path d="M1308.5 561.4L1308.5 589.3" stroke-width="1.35"/>
<path d="M1310.4 561.4L1310.4 589.9" stroke-width="1.35"/>
<path d="M1308.5 589.3L1310.4 589.9" stroke-width="1.35"/>
<path d="M1309.1 561.4L1332 548.1" stroke-width="1.35"/>
<path d="M1310.4 570.3L1333.3 583.6" stroke-width="1.35"/>
<path d="M1333.3 583.6L1335.2 586.1" stroke-width="1.35"/>
<text x="0" y="0" transform="matrix(0.866 0.5 0 1 1222 433)" font-size="41" text-anchor="start" fill="#fff" stroke="#161616" stroke-width="1.5" textLength="127" lengthAdjust="spacingAndGlyphs">Cat 5e</text>
<path d="M1482.8 331.8C1485.67 333.38 1494.38 338.2 1500 341.3C1505.62 344.4 1513.23 348.52 1516.5 350.4C1519.77 352.28 1518.95 351.5 1519.6 352.6C1520.25 353.7 1520.43 353.48 1520.4 357C1520.37 360.52 1520.25 367.3 1519.4 373.7C1518.55 380.1 1517.55 387.98 1515.3 395.4C1513.05 402.82 1508.73 412.28 1505.9 418.2C1503.07 424.12 1501.05 426.23 1498.3 430.9C1495.55 435.57 1492.97 438.37 1489.4 446.2C1485.83 454.03 1480.67 466.27 1476.9 477.9C1473.13 489.53 1469.02 503.9 1466.8 516C1464.58 528.1 1464.13 544.75 1463.6 550.5" stroke-width="1.1" fill="none"/>
<path d="M1482.8 333.6C1485.67 335.18 1494.63 340.12 1500 343.1C1505.37 346.08 1512.03 349.72 1515 351.5C1517.97 353.28 1517.2 352.82 1517.8 353.8C1518.4 354.78 1518.63 354.08 1518.6 357.4C1518.57 360.72 1518.45 367.43 1517.6 373.7C1516.75 379.97 1515.75 387.68 1513.5 395C1511.25 402.32 1506.93 411.73 1504.1 417.6C1501.27 423.47 1499.25 425.55 1496.5 430.2C1493.75 434.85 1491.17 437.65 1487.6 445.5C1484.03 453.35 1478.87 465.62 1475.1 477.3C1471.33 488.98 1467.22 503.23 1465 515.6C1462.78 527.97 1462.33 545.52 1461.8 551.5" stroke-width="1.1" fill="none"/>
<path d="M1304.2 308.4C1303.57 308.75 1301.93 308.98 1300.4 310.5C1298.87 312.02 1296.48 315.22 1295 317.5C1293.52 319.78 1292.42 321.8 1291.5 324.2C1290.58 326.6 1289.87 329.15 1289.5 331.9C1289.13 334.65 1289.33 339.23 1289.3 340.7" stroke-width="1.3" fill="none"/>
<path d="M1289.3 340.7C1290.25 342.33 1292.52 347.45 1295 350.5C1297.48 353.55 1300.7 356.15 1304.2 359C1307.7 361.85 1311.77 364.83 1316 367.6C1320.23 370.37 1323.1 372.22 1329.6 375.6C1336.1 378.98 1346.75 384.5 1355 387.9C1363.25 391.3 1375.08 394.65 1379.1 396" stroke-width="1.3" fill="none"/>
<path d="M1379.1 396C1379.1 394.5 1379.07 389.87 1379.1 387C1379.13 384.13 1378.93 381.22 1379.3 378.8C1379.67 376.38 1380.43 374.3 1381.3 372.5C1382.17 370.7 1383.38 369.38 1384.5 368C1385.62 366.62 1386.78 365.47 1388 364.2C1389.22 362.93 1391.17 361.03 1391.8 360.4" stroke-width="1.3" fill="none"/>
<path d="M1304.2 308.4L1391.8 360.4" stroke-width="1.5"/>
<path d="M1300.4 312.2L1388 364.2" stroke-width="1.5"/>
<path d="M1391.8 360.4L1393.6 360.6V372.8" stroke-width="1.5" fill="none"/>
<path d="M1292.8 324.2C1293.92 326.58 1296.53 333.63 1299.5 338.5C1302.47 343.37 1306.52 349.07 1310.6 353.4C1314.68 357.73 1318.72 361.32 1324 364.5C1329.28 367.68 1335.97 370.58 1342.3 372.5C1348.63 374.42 1355.43 375.48 1362 376C1368.57 376.52 1378.42 375.67 1381.7 375.6" stroke-width="1.2" fill="none"/>
<path d="M1290.3 333.8C1291.42 336.25 1294.05 343.75 1297 348.5C1299.95 353.25 1304.08 358.52 1308 362.3C1311.92 366.08 1315.83 368.52 1320.5 371.2C1325.17 373.88 1329.92 376.3 1336 378.4C1342.08 380.5 1349.92 382.77 1357 383.8C1364.08 384.83 1374.92 384.47 1378.5 384.6" stroke-width="1.2" fill="none"/>
<path d="M1289.3 340.7C1290.42 342.75 1293.22 349.28 1296 353C1298.78 356.72 1301.67 359.6 1306 363C1310.33 366.4 1316.33 370.32 1322 373.4C1327.67 376.48 1337 380.15 1340 381.5" stroke-width="1" fill="none"/>
<path d="M1315.7 314.9L1385.5 274.7Q1387.5 273.2 1390 273.6" stroke-width="1.5" fill="none"/>
<path d="M1387.6 273.4C1389.67 273.87 1395.98 275.15 1400 276.2C1404.02 277.25 1407.53 278.23 1411.7 279.7C1415.87 281.17 1420.77 283.08 1425 285C1429.23 286.92 1433.18 288.98 1437.1 291.2C1441.02 293.42 1444.9 295.77 1448.5 298.3C1452.1 300.83 1455.2 303.53 1458.7 306.4C1462.2 309.27 1466.12 312.43 1469.5 315.5C1472.88 318.57 1477.42 323.25 1479 324.8" stroke-width="1.2" fill="none"/>
<path d="M1385.7 274.6C1387.92 275.13 1394.83 276.68 1399 277.8C1403.17 278.92 1406.53 279.83 1410.7 281.3C1414.87 282.77 1419.78 284.68 1424 286.6C1428.22 288.52 1432.12 290.58 1436 292.8C1439.88 295.02 1443.72 297.37 1447.3 299.9C1450.88 302.43 1454.05 305.15 1457.5 308C1460.95 310.85 1464.92 314.07 1468 317C1471.08 319.93 1474.67 324.17 1476 325.6" stroke-width="1" fill="none"/>
<path d="M1479 324.8Q1482.8 326.2 1482.8 330V352.1" stroke-width="1.5" fill="none"/>
<path d="M1475.8 326.1L1393.6 372.8" stroke-width="1.5"/>
<path d="M1482.8 352.1L1449.8 371.1" stroke-width="1.5"/>
<path d="M1449.8 354.6V371.1L1440.9 366V360.4Z" stroke-width="1.5" fill="none"/>
<path d="M1379.1 396L1440.9 360.4" stroke-width="1.5"/>
<path d="M1428.9 448.1V531.2Q1430 534.2 1434.3 533.7L1445.7 526.1" stroke-width="1.2" fill="none"/>
<path d="M1428.9 448.1C1429.83 447.62 1432.55 446.12 1434.5 445.2C1436.45 444.28 1438.68 442.22 1440.6 442.6C1442.52 442.98 1444.3 445.22 1446 447.5C1447.7 449.78 1449.42 452.55 1450.8 456.3C1452.18 460.05 1453.5 465.35 1454.3 470C1455.1 474.65 1455.58 479.37 1455.6 484.2C1455.62 489.03 1455.2 494.13 1454.4 499C1453.6 503.87 1452.25 508.88 1450.8 513.4C1449.35 517.92 1446.55 523.98 1445.7 526.1" stroke-width="1.2" fill="none"/>
<path d="M1428.9 448.1C1429.83 448.83 1433.02 450.4 1434.5 452.5C1435.98 454.6 1437.25 459.33 1437.8 460.7" stroke-width="1" fill="none"/>
<path d="M1437.8 460.7L1437.8 529.9" stroke-width="1.1"/>
<path d="M1437.8 460.7L1447 455" stroke-width="1"/>
<path d="M1437.8 529.9L1446.3 524.5" stroke-width="1"/>
<path d="M1440.6 442.6C1441.25 443.5 1443.43 445.93 1444.5 448C1445.57 450.07 1445.87 451.5 1447 455C1448.13 458.5 1450.28 464.13 1451.3 469C1452.32 473.87 1453.1 479.03 1453.1 484.2C1453.1 489.37 1452.43 493.65 1451.3 500C1450.17 506.35 1447.13 518.58 1446.3 522.3" stroke-width="1" fill="none"/>
<path d="M1212.7 898.5Q1212.7 893.6 1215.3 895L1338.6 966.1Q1343 968.6 1343 973.5V1127.5Q1343 1133 1339.3 1130.9L1216.7 1060Q1212.7 1057.6 1212.7 1053.5Z" stroke-width="1.5" fill="none"/>
<path d="M1339 965.3L1605 811.7" stroke-width="1.5"/>
<path d="M1343 970.6L1608.3 817.4" stroke-width="1.5"/>
<path d="M1480.3 739.5L1604.4 811.2Q1608.3 813.4 1608.3 817.6V977.3" stroke-width="1.5" fill="none"/>
<path d="M1343 1130.6L1608.3 977.3" stroke-width="2.3"/>
<path d="M1213.3 893.7L1338.1 821.65" stroke-width="2.3"/>
<path d="M1451.9 755.94L1480.3 739.55" stroke-width="2.3"/>
<path d="M1220.1 1028.9V949.6L1335.2 1015.9V1096.1" stroke-width="1.3" fill="none"/>
<path d="M1229.4 1024.4V957.5L1333.3 1017.4" stroke-width="1.2" fill="none"/>
<path d="M1333.3 1017.4L1333.3 1093.6" stroke-width="1.35"/>
<path d="M1220.1 949.6L1229.4 957.5" stroke-width="1"/>
<path d="M1220.1 1028.9L1245.7 1043.6" stroke-width="1.3"/>
<path d="M1220.1 1028.9L1229.4 1024.4" stroke-width="1.35"/>
<path d="M1229.4 1024.4L1254.6 1039" stroke-width="1.35"/>
<path d="M1245.7 1043.6L1254.6 1039" stroke-width="1.35"/>
<path d="M1229.4 1024.4L1287.6 991.4" stroke-width="1.35"/>
<path d="M1254.6 1039L1311.7 1005.6" stroke-width="1.35"/>
<path d="M1245.7 1043.6L1245.7 1061.2" stroke-width="1.3"/>
<path d="M1254.6 1039L1254.6 1056.2" stroke-width="1.35"/>
<path d="M1253.2 1040L1253.2 1056.8" stroke-width="0.9"/>
<path d="M1245.7 1061.2L1255.8 1067.6" stroke-width="1.3"/>
<path d="M1245.7 1061.2L1254.6 1056.2" stroke-width="1.35"/>
<path d="M1254.6 1056.2L1264.1 1051.7" stroke-width="1.35"/>
<path d="M1264.1 1051.7L1274.9 1058.1" stroke-width="1.35"/>
<path d="M1274.9 1058.1L1264.7 1063.1" stroke-width="1.35"/>
<path d="M1264.7 1063.1L1255.8 1067.6" stroke-width="1.35"/>
<path d="M1254.6 1056.2L1264.7 1063.1" stroke-width="1.35"/>
<path d="M1274.9 1058.1L1274.9 1070.7" stroke-width="1.35"/>
<path d="M1274.9 1070.7L1264.7 1076.5" stroke-width="1.35"/>
<path d="M1264.7 1063.1L1264.7 1076.5" stroke-width="1.35"/>
<path d="M1255.8 1067.6V1077Q1256.2 1080.6 1260 1080.4Q1263.5 1080 1264.7 1076.5" stroke-width="1.3" fill="none"/>
<path d="M1274.9 1058.1L1332 1025.7" stroke-width="1.35"/>
<path d="M1259.7 1080.3L1299 1103.9" stroke-width="1.3"/>
<path d="M1271.1 1073.4L1298.4 1089.8" stroke-width="1.35"/>
<path d="M1298.4 1089.8L1298.4 1103.5" stroke-width="1.35"/>
<path d="M1300.3 1085.3L1300.3 1105" stroke-width="1.35"/>
<path d="M1299 1103.9L1300.3 1105" stroke-width="1.35"/>
<path d="M1300.3 1085.3Q1300.6 1083.2 1302 1082.4L1308.5 1079" stroke-width="1.2" fill="none"/>
<path d="M1301.5 1089.2L1308.5 1093" stroke-width="1.35"/>
<path d="M1308.5 1071.4L1308.5 1099.3" stroke-width="1.35"/>
<path d="M1310.4 1071.4L1310.4 1099.9" stroke-width="1.35"/>
<path d="M1308.5 1099.3L1310.4 1099.9" stroke-width="1.35"/>
<path d="M1309.1 1071.4L1332 1058.1" stroke-width="1.35"/>
<path d="M1310.4 1080.3L1333.3 1093.6" stroke-width="1.35"/>
<path d="M1333.3 1093.6L1335.2 1096.1" stroke-width="1.35"/>
<text x="0" y="0" transform="matrix(0.866 0.5 0 1 1222 943)" font-size="41" text-anchor="start" fill="#fff" stroke="#161616" stroke-width="1.5" textLength="127" lengthAdjust="spacingAndGlyphs">Cat 5e</text>
<path d="M1302.5 841.5C1310.42 846 1333.75 859.25 1350 868.5C1366.25 877.75 1387.67 889.98 1400 897C1412.33 904.02 1419.23 907.83 1424 910.6C1428.77 913.37 1427.55 912.23 1428.6 913.6C1429.65 914.97 1429.77 915.85 1430.3 918.8C1430.83 921.75 1431.1 927.77 1431.8 931.3C1432.5 934.83 1433.42 937.3 1434.5 940C1435.58 942.7 1436.88 945.08 1438.3 947.5C1439.72 949.92 1441.12 952.2 1443 954.5C1444.88 956.8 1447.27 959.13 1449.6 961.3C1451.93 963.47 1454.3 965.22 1457 967.5C1459.7 969.78 1463.22 972.42 1465.8 975C1468.38 977.58 1470.42 980.08 1472.5 983C1474.58 985.92 1476.63 989 1478.3 992.5C1479.97 996 1481.25 1000.03 1482.5 1004C1483.75 1007.97 1484.88 1011.97 1485.8 1016.3C1486.72 1020.63 1487.37 1025.13 1488 1030C1488.63 1034.87 1489.33 1042.92 1489.6 1045.5" stroke-width="1.1" fill="none"/>
<path d="M1301 843.4C1309.17 848.05 1333.5 861.9 1350 871.3C1366.5 880.7 1387.92 892.93 1400 899.8C1412.08 906.67 1418.07 909.93 1422.5 912.5C1426.93 915.07 1425.65 914.03 1426.6 915.2C1427.55 916.37 1427.7 916.77 1428.2 919.5C1428.7 922.23 1428.93 928.08 1429.6 931.6C1430.27 935.12 1431.13 937.82 1432.2 940.6C1433.27 943.38 1434.55 945.82 1436 948.3C1437.45 950.78 1438.97 953.13 1440.9 955.5C1442.83 957.87 1445.25 960.3 1447.6 962.5C1449.95 964.7 1452.33 966.42 1455 968.7C1457.67 970.98 1461.07 973.65 1463.6 976.2C1466.13 978.75 1468.13 981.15 1470.2 984C1472.27 986.85 1474.33 989.87 1476 993.3C1477.67 996.73 1478.95 1000.7 1480.2 1004.6C1481.45 1008.5 1482.58 1012.4 1483.5 1016.7C1484.42 1021 1485.08 1025.38 1485.7 1030.4C1486.32 1035.42 1486.95 1044.07 1487.2 1046.8" stroke-width="1.1" fill="none"/>
<path d="M1427.1 760.6V747.5Q1427.6 745.8 1431.3 744.8L1520 796.3Q1531.3 799.5 1531.3 807V817.5" stroke-width="1.5" fill="none"/>
<path d="M1427.3 747.4L1516.9 799.4V811.3" stroke-width="1.5" fill="none"/>
<path d="M1427.1 760.6L1516.9 811.3" stroke-width="1.5"/>
<path d="M1427.1 760.6L1346.3 806.9Q1338.3 811 1338.1 819V841.3" stroke-width="1.5" fill="none"/>
<path d="M1346.3 807.5C1348.58 810.25 1354.8 819 1360 824C1365.2 829 1371.5 833.83 1377.5 837.5C1383.5 841.17 1389.75 843.5 1396 846C1402.25 848.5 1408.08 850.78 1415 852.5C1421.92 854.22 1433.75 855.67 1437.5 856.3" stroke-width="1.3" fill="none"/>
<path d="M1338.6 822.5C1340.83 825.08 1346.55 833.42 1352 838C1357.45 842.58 1364.97 846.58 1371.3 850C1377.63 853.42 1383.88 856 1390 858.5C1396.12 861 1401.85 862.98 1408 865C1414.15 867.02 1423.75 869.67 1426.9 870.6" stroke-width="1.3" fill="none"/>
<path d="M1338.1 841.3C1340.42 844 1345.43 851.88 1352 857.5C1358.57 863.12 1369.17 870.28 1377.5 875C1385.83 879.72 1393.62 882.67 1402 885.8C1410.38 888.93 1423.5 892.47 1427.8 893.8" stroke-width="1.3" fill="none"/>
<path d="M1437.5 856.3Q1428.3 859.5 1428.1 870.6V893.8" stroke-width="1.5" fill="none"/>
<path d="M1437.5 856.3L1516.9 811.3" stroke-width="1.5"/>
<path d="M1428.1 893.8L1460 875.3V857.7L1531.3 817.5" stroke-width="1.5" fill="none"/>
<path d="M1531.3 917.5C1531.13 916.5 1531.1 913.25 1530.3 911.5C1529.5 909.75 1528 908.15 1526.5 907C1525 905.85 1523.42 904.3 1521.3 904.6C1519.18 904.9 1515.77 907.32 1513.8 908.8C1511.83 910.28 1510.58 911.83 1509.5 913.5C1508.42 915.17 1508.45 915.05 1507.3 918.8C1506.15 922.55 1503.72 930.17 1502.6 936C1501.48 941.83 1500.73 948.13 1500.6 953.8C1500.47 959.47 1501.07 964.8 1501.8 970C1502.53 975.2 1503.97 981.53 1505 985C1506.03 988.47 1506.75 989.2 1508 990.8C1509.25 992.4 1511.07 993.87 1512.5 994.6C1513.93 995.33 1515.92 995.1 1516.6 995.2" stroke-width="1.2" fill="none"/>
<path d="M1529.8 917.6C1529.62 916.67 1529.42 913.55 1528.7 912C1527.98 910.45 1526.73 909.27 1525.5 908.3C1524.27 907.33 1523.12 905.92 1521.3 906.2C1519.48 906.48 1516.32 908.63 1514.6 910C1512.88 911.37 1511.93 912.83 1511 914.4C1510.07 915.97 1510.12 915.75 1509 919.4C1507.88 923.05 1505.4 930.57 1504.3 936.3C1503.2 942.03 1502.53 948.25 1502.4 953.8C1502.27 959.35 1502.8 964.52 1503.5 969.6C1504.2 974.68 1505.62 980.97 1506.6 984.3C1507.58 987.63 1508.3 988.15 1509.4 989.6C1510.5 991.05 1512 992.32 1513.2 993C1514.4 993.68 1516.03 993.58 1516.6 993.7" stroke-width="0.9" fill="none"/>
<path d="M1531.3 917.5V986.3L1516.6 995.2" stroke-width="1.2" fill="none"/>
<path d="M1522.5 922.5C1521.8 925.08 1519.23 932.78 1518.3 938C1517.37 943.22 1516.9 948.3 1516.9 953.8C1516.9 959.3 1517.37 965.17 1518.3 971C1519.23 976.83 1521.8 985.83 1522.5 988.8" stroke-width="1" fill="none"/>
<path d="M1508.1 918.8C1509.17 919.38 1512.1 921.68 1514.5 922.3C1516.9 922.92 1521.17 922.47 1522.5 922.5" stroke-width="1" fill="none"/>
<path d="M1522.5 922.5L1531.3 918.7" stroke-width="1"/>
<path d="M1515 908.6C1515.83 909.58 1518.75 912.18 1520 914.5C1521.25 916.82 1522.08 921.17 1522.5 922.5" stroke-width="1" fill="none"/>
<path d="M1522.5 988.8L1531.3 983.8" stroke-width="1"/>
<g stroke="#161616" fill="#161616" stroke-width="7.8" stroke-linejoin="round">
<path d="M1834.38 973.74L1851.62 973.74C1858.23 973.74 1861.07 978.23 1861.07 982.95C1861.07 986.97 1858.94 989.8 1855.87 991.45L1863.9 1002.32L1857.29 1007.04L1846.89 993.58L1843.82 993.58L1843.82 1007.04L1834.52 1007.04Z"/><path d="M1890.35 973.74L1899.8 973.74L1899.8 988.38L1911.85 988.38L1911.85 973.74L1921.29 973.74L1921.29 1007.04L1911.85 1007.04L1911.85 992.4L1899.8 992.4L1899.8 1007.04L1890.35 1007.04Z"/><ellipse cx="1876.18" cy="995.8" rx="10.77" ry="10.96"/><path d="M1926.36 1001.33C1926.95 1000.34 1929.38 997.92 1929.9 995.42C1930.41 992.93 1929.51 989.67 1929.44 986.34C1929.38 983.01 1928.91 978.69 1929.54 975.44C1930.16 972.18 1931.35 969.15 1933.17 966.81C1934.99 964.46 1938.01 962.53 1940.44 961.36C1942.86 960.18 1945.89 959.16 1947.7 959.77C1949.52 960.37 1950.35 964.42 1951.34 964.99C1952.32 965.56 1952.55 963.55 1953.61 963.17C1954.67 962.79 1956.11 962.42 1957.7 962.72C1959.29 963.02 1961.56 963.7 1963.15 964.99C1964.74 966.28 1966.29 968.25 1967.24 970.44C1968.18 972.64 1968.83 975.13 1968.83 978.16C1968.83 981.19 1968.41 985.35 1967.24 988.61C1966.06 991.87 1964.06 995.05 1961.79 997.69C1959.52 1000.34 1956.49 1002.8 1953.61 1004.51C1950.73 1006.21 1947.55 1007.39 1944.53 1007.92C1941.5 1008.44 1938.17 1008.22 1935.44 1007.69C1932.72 1007.16 1929.69 1005.8 1928.17 1004.74C1926.66 1003.68 1926.66 1001.9 1926.36 1001.33Z"/>
</g>
<g stroke="#fff" fill="#fff" stroke-width="5.4" stroke-linejoin="round">
<path d="M1834.38 973.74L1851.62 973.74C1858.23 973.74 1861.07 978.23 1861.07 982.95C1861.07 986.97 1858.94 989.8 1855.87 991.45L1863.9 1002.32L1857.29 1007.04L1846.89 993.58L1843.82 993.58L1843.82 1007.04L1834.52 1007.04Z"/><path d="M1890.35 973.74L1899.8 973.74L1899.8 988.38L1911.85 988.38L1911.85 973.74L1921.29 973.74L1921.29 1007.04L1911.85 1007.04L1911.85 992.4L1899.8 992.4L1899.8 1007.04L1890.35 1007.04Z"/><ellipse cx="1876.18" cy="995.8" rx="10.77" ry="10.96"/><path d="M1926.36 1001.33C1926.95 1000.34 1929.38 997.92 1929.9 995.42C1930.41 992.93 1929.51 989.67 1929.44 986.34C1929.38 983.01 1928.91 978.69 1929.54 975.44C1930.16 972.18 1931.35 969.15 1933.17 966.81C1934.99 964.46 1938.01 962.53 1940.44 961.36C1942.86 960.18 1945.89 959.16 1947.7 959.77C1949.52 960.37 1950.35 964.42 1951.34 964.99C1952.32 965.56 1952.55 963.55 1953.61 963.17C1954.67 962.79 1956.11 962.42 1957.7 962.72C1959.29 963.02 1961.56 963.7 1963.15 964.99C1964.74 966.28 1966.29 968.25 1967.24 970.44C1968.18 972.64 1968.83 975.13 1968.83 978.16C1968.83 981.19 1968.41 985.35 1967.24 988.61C1966.06 991.87 1964.06 995.05 1961.79 997.69C1959.52 1000.34 1956.49 1002.8 1953.61 1004.51C1950.73 1006.21 1947.55 1007.39 1944.53 1007.92C1941.5 1008.44 1938.17 1008.22 1935.44 1007.69C1932.72 1007.16 1929.69 1005.8 1928.17 1004.74C1926.66 1003.68 1926.66 1001.9 1926.36 1001.33Z"/>
</g>
<g stroke="#161616" fill="#fff" stroke-width="1.2" stroke-linejoin="round">
<path d="M1834.38 973.74L1851.62 973.74C1858.23 973.74 1861.07 978.23 1861.07 982.95C1861.07 986.97 1858.94 989.8 1855.87 991.45L1863.9 1002.32L1857.29 1007.04L1846.89 993.58L1843.82 993.58L1843.82 1007.04L1834.52 1007.04Z"/><path d="M1890.35 973.74L1899.8 973.74L1899.8 988.38L1911.85 988.38L1911.85 973.74L1921.29 973.74L1921.29 1007.04L1911.85 1007.04L1911.85 992.4L1899.8 992.4L1899.8 1007.04L1890.35 1007.04Z"/><ellipse cx="1876.18" cy="995.8" rx="10.77" ry="10.96"/>
<path d="M1947.7 959.77C1946.49 960.03 1942.86 960.18 1940.44 961.36C1938.01 962.53 1934.99 964.46 1933.17 966.81C1931.35 969.15 1930.16 972.18 1929.54 975.44C1928.91 978.69 1929.38 983.01 1929.44 986.34C1929.51 989.67 1930.41 992.93 1929.9 995.42C1929.38 997.92 1925.96 1000.5 1926.36 1001.33C1926.75 1002.16 1930.75 1001.4 1932.26 1000.42C1933.78 999.44 1934.8 997.39 1935.44 995.42C1936.08 993.46 1936.12 991.26 1936.12 988.61C1936.12 985.96 1935.33 982.55 1935.44 979.53C1935.55 976.5 1935.97 973.01 1936.8 970.44C1937.64 967.87 1938.62 965.86 1940.44 964.08C1942.25 962.3 1946.49 960.49 1947.7 959.77Z"/><path d="M1951.34 964.99C1950.88 965.9 1949.22 968.02 1948.61 970.44C1948.01 972.86 1947.74 976.5 1947.7 979.53C1947.67 982.55 1948.61 985.81 1948.39 988.61C1948.16 991.41 1947.67 994.06 1946.34 996.33C1945.02 998.6 1942.63 1000.87 1940.44 1002.24C1938.24 1003.6 1935.21 1004.09 1933.17 1004.51C1931.13 1004.92 1927.79 1004.21 1928.17 1004.74C1928.55 1005.27 1932.72 1007.16 1935.44 1007.69C1938.17 1008.22 1941.5 1008.44 1944.53 1007.92C1947.55 1007.39 1950.73 1006.21 1953.61 1004.51C1956.49 1002.8 1959.52 1000.34 1961.79 997.69C1964.06 995.05 1966.06 991.87 1967.24 988.61C1968.41 985.35 1968.83 981.19 1968.83 978.16C1968.83 975.13 1968.18 972.64 1967.24 970.44C1966.29 968.25 1964.74 966.28 1963.15 964.99C1961.56 963.7 1959.29 963.02 1957.7 962.72C1956.11 962.42 1954.67 962.79 1953.61 963.17C1952.55 963.55 1951.72 964.69 1951.34 964.99Z"/>
<path d="M1843.82 976.34C1848.78 976.81 1852.56 979.17 1852.56 983.89C1852.56 988.15 1849.26 990.74 1843.82 991.45Z" stroke-width="1"/>
<ellipse cx="1876.18" cy="995.8" rx="4.63" ry="8.6" stroke-width="1"/>
<path d="M1846.42 980.12C1848.78 981.06 1849.73 982.95 1849.49 984.37C1849.26 986.26 1848.31 987.44 1846.66 987.67Z" fill="#555" stroke-width="0.9"/>
<ellipse cx="1876.18" cy="995.8" rx="1.42" ry="5.1" fill="#777" stroke-width="0.9"/>
</g>
<circle cx="1861.3" cy="992.63" r="0.9" fill="#161616" stroke="none"/>
<path d="M1947.7 959.77L1942.25 961.9L1944.07 960.36Z" fill="#161616" stroke="none"/>
<path d="M1846.3 1080.8H1929.3Q1935.3 1080.8 1935.3 1086.8V1199.5Q1935.3 1205.5 1929.3 1205.5H1846.3A62.35 62.35 0 0 1 1846.3 1080.8Z" stroke-width="1.2" fill="none"/>
<circle cx="1846.3" cy="1143.4" r="51.3" stroke-width="1.2"/>
<path d="M1815.7 1109.7H1827V1146.2A4.25 4.25 0 0 0 1835.5 1146.2V1109.7H1846.3V1144.3A15.3 15.3 0 0 1 1815.7 1144.3Z" stroke-width="1.2" fill="none"/>
<path d="M1853.5 1128.4H1865.3V1166.4H1878.6V1177.5H1853.5Z" stroke-width="1.2" fill="none"/>
<circle cx="1892.2" cy="1094" r="4.6" stroke-width="1.5"/>
<text x="1892.2" y="1096.9" font-size="7.5" text-anchor="middle" fill="#000" stroke="none" font-weight="bold">R</text>
<rect x="1939.3" y="1080.8" width="70.3" height="124.7" rx="6" stroke-width="1.2"/>
<text x="0" y="0" transform="translate(1924 1198.8) rotate(-90)" font-size="21.6" text-anchor="start" fill="#fff" stroke="#111" stroke-width="1.15" stroke-linejoin="round" textLength="111" lengthAdjust="spacingAndGlyphs">CERTIFIED</text>
<text x="0" y="0" transform="translate(1994.3 1193.8) rotate(-90)" font-size="30.7" text-anchor="start" fill="#fff" stroke="#111" stroke-width="1.3" stroke-linejoin="round" textLength="101" lengthAdjust="spacingAndGlyphs">E145249</text>
<text x="0" y="0" transform="translate(1961.4 1186.6) rotate(-90)" font-size="16.2" font-weight="bold" text-anchor="start" fill="#000" stroke="#000" stroke-width="0.3" textLength="86.5" lengthAdjust="spacingAndGlyphs">SAFETY US-CA</text>
</svg>
</body></html>
